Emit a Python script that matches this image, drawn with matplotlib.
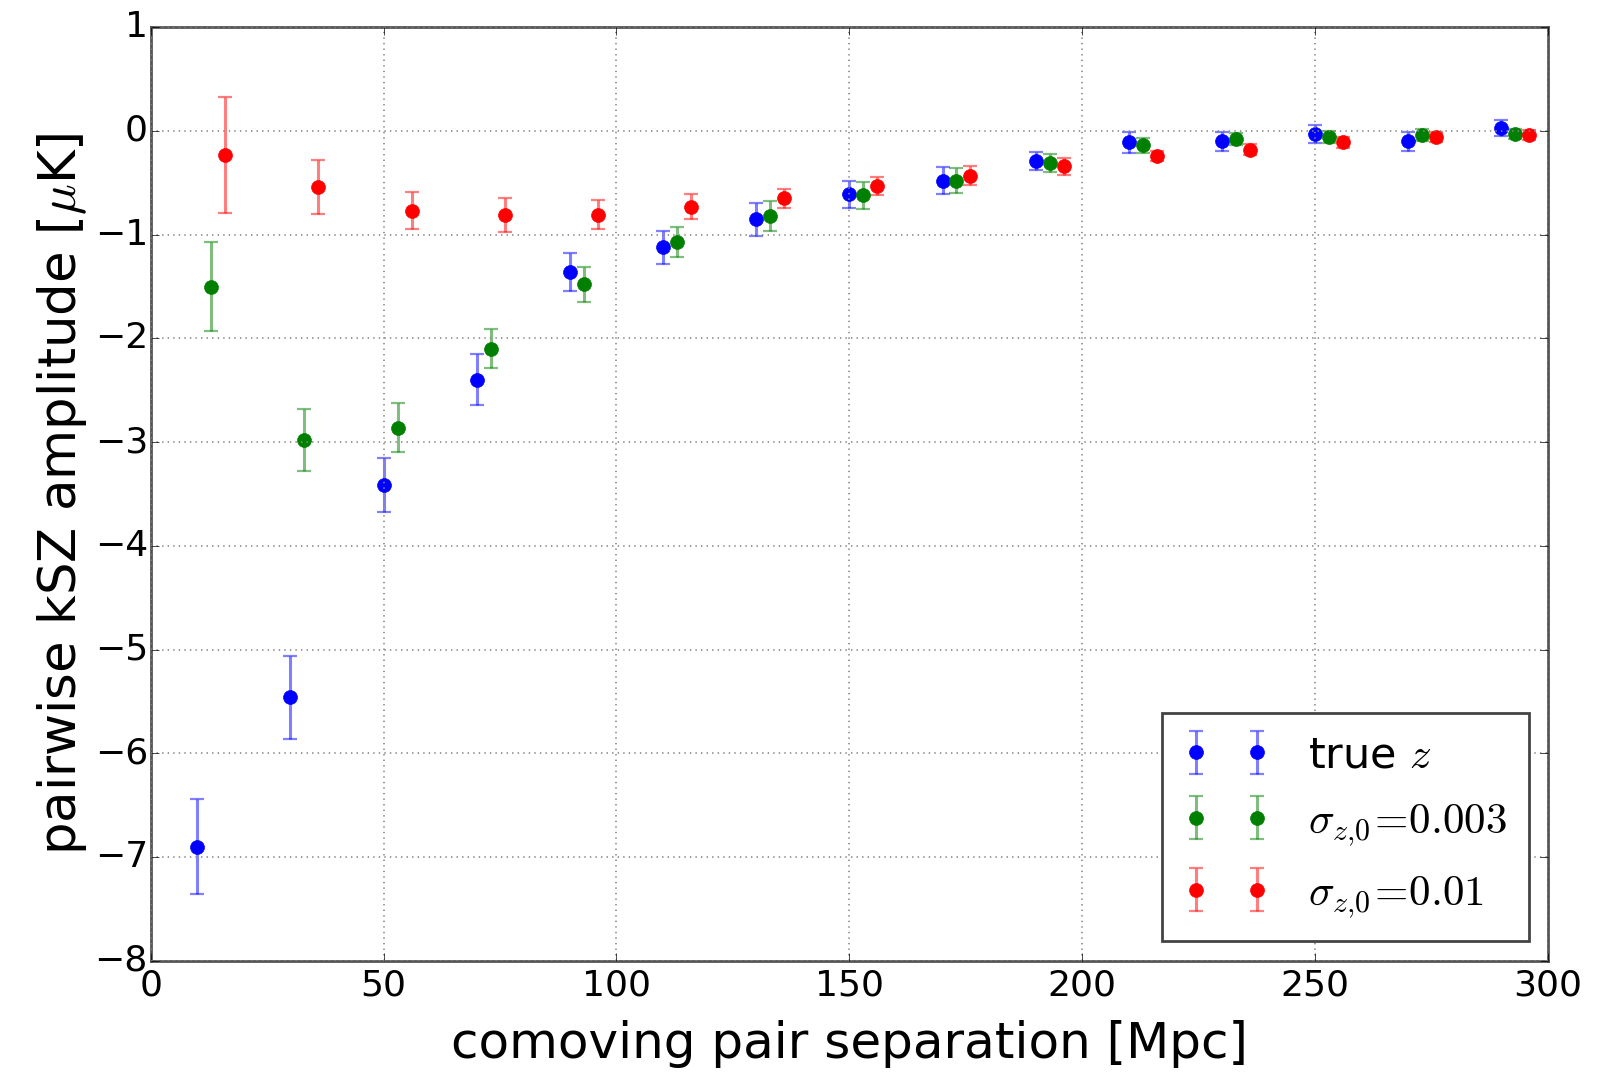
import matplotlib
matplotlib.use("Agg")
import matplotlib.pyplot as plt

plt.style.use("classic")
plt.rcParams["mathtext.fontset"] = "cm"

# ---- data ----
x_true = [10, 30, 50, 70, 90, 110, 130, 150, 170, 190, 210, 230, 250, 270, 290]
y_true = [-6.90, -5.46, -3.41, -2.40, -1.36, -1.12, -0.85, -0.61, -0.48, -0.29,
          -0.11, -0.10, -0.03, -0.10, 0.03]
e_true = [0.46, 0.40, 0.26, 0.245, 0.18, 0.16, 0.16, 0.13, 0.13, 0.09,
          0.10, 0.09, 0.09, 0.09, 0.08]

x_s003 = [13, 33, 53, 73, 93, 113, 133, 153, 173, 193, 213, 233, 253, 273, 293]
y_s003 = [-1.50, -2.98, -2.86, -2.10, -1.48, -1.07, -0.82, -0.62, -0.48, -0.31,
          -0.14, -0.08, -0.06, -0.04, -0.03]
e_s003 = [0.425, 0.30, 0.24, 0.19, 0.17, 0.145, 0.14, 0.13, 0.12, 0.09,
          0.07, 0.06, 0.06, 0.06, 0.05]

x_s01 = [16, 36, 56, 76, 96, 116, 136, 156, 176, 196, 216, 236, 256, 276, 296]
y_s01 = [-0.23, -0.54, -0.77, -0.81, -0.81, -0.73, -0.65, -0.53, -0.43, -0.34,
         -0.24, -0.18, -0.11, -0.06, -0.04]
e_s01 = [0.56, 0.26, 0.18, 0.16, 0.14, 0.12, 0.09, 0.09, 0.09, 0.08,
         0.05, 0.05, 0.05, 0.05, 0.05]

labels = [r"true $z$", r"$\sigma_{z{,}0}\!=\!0.003$", r"$\sigma_{z{,}0}\!=\!0.01$"]
colors = ["#0000ff", "#007f00", "#ff0000"]

fig = plt.figure(figsize=(15.97, 10.73), dpi=100, facecolor="white")
ax = fig.add_axes([0.0944, 0.1047, 0.8749, 0.8699])

series = [(x_true, y_true, e_true), (x_s003, y_s003, e_s003), (x_s01, y_s01, e_s01)]
for (xs, ys, es), lab, c in zip(series, labels, colors):
    eb = ax.errorbar(xs, ys, yerr=es, fmt="o", color=c, ecolor=c, mec=c,
                     markersize=10, elinewidth=2.2, capsize=5, capthick=1.6,
                     label=lab)
    for art in eb[1]:
        art.set_alpha(0.5)
    for art in eb[2]:
        art.set_alpha(0.5)

ax.set_xlim(0, 300)
ax.set_ylim(-8, 1)
ax.set_xticks([0, 50, 100, 150, 200, 250, 300])
ax.set_yticks(range(-8, 2))
ax.grid(True, linestyle=":", color="#888888", linewidth=1.2)
ax.tick_params(axis="both", labelsize=26, length=6)
ax.tick_params(axis="x", pad=6)
ax.tick_params(axis="y", pad=2)
for sp in ax.spines.values():
    sp.set_color("#555555")
    sp.set_linewidth(2)

ax.set_xlabel("comoving pair separation [Mpc]", fontsize=36, labelpad=12)
ax.set_ylabel(r"pairwise kSZ amplitude [$\mu$K]", fontsize=37, labelpad=4)

leg = ax.legend(loc="lower right", numpoints=2, fontsize=31, frameon=True,
                fancybox=False, borderaxespad=0.45, handlelength=2.0,
                labelspacing=0.55, borderpad=0.5, handletextpad=0.9)
leg.get_frame().set_edgecolor("#444444")
leg.get_frame().set_linewidth(2)

fig.savefig("out.png", dpi=100, facecolor="white")
